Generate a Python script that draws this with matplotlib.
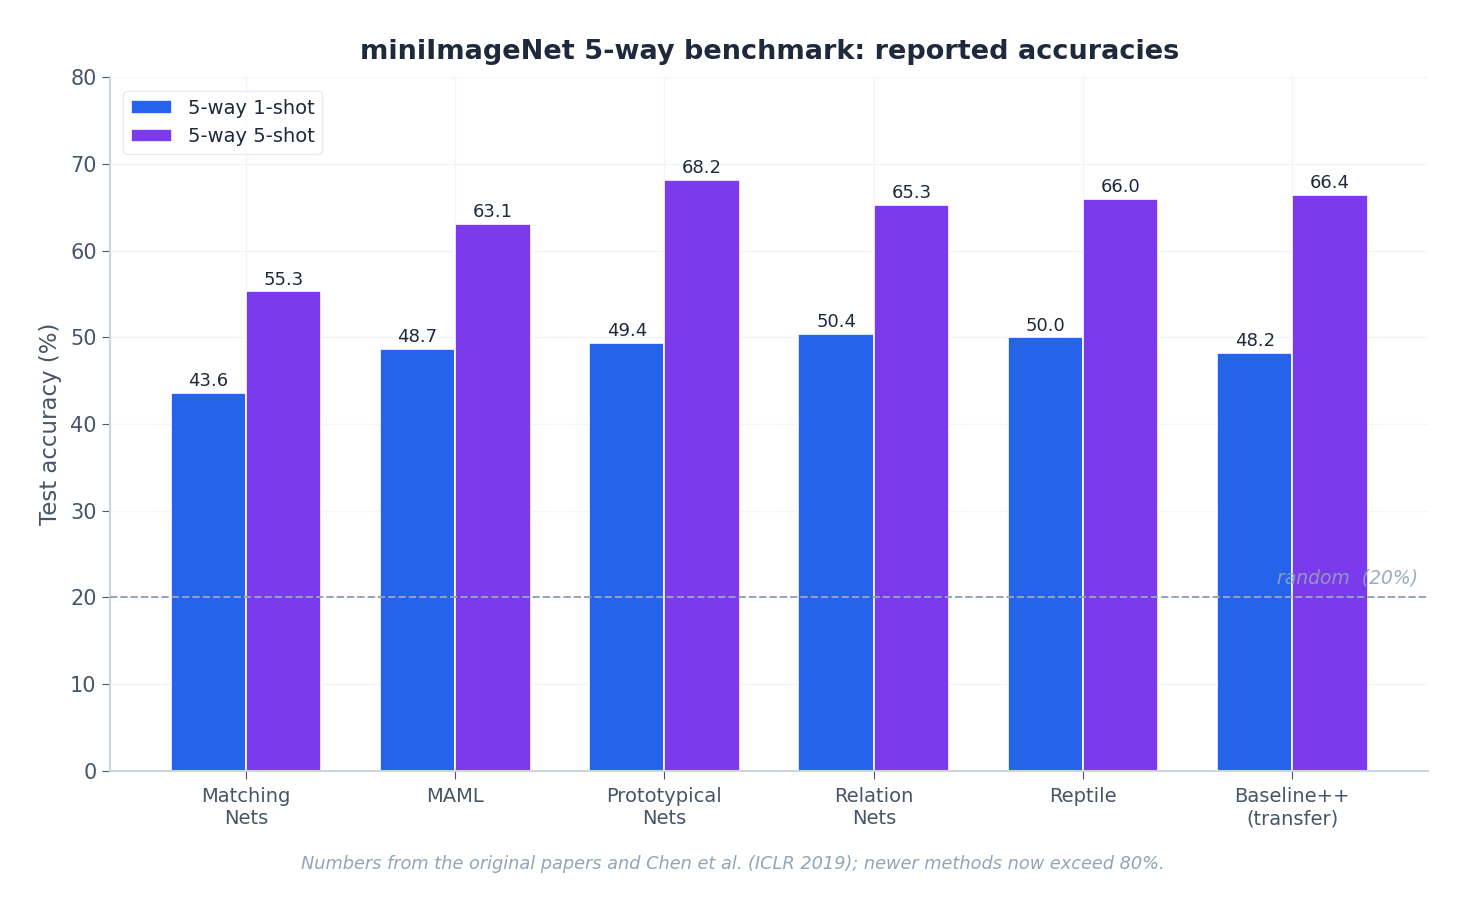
import numpy as np
from matplotlib import pyplot as plt

methods = ["Matching\nNets", "MAML", "Prototypical\nNets", "Relation\nNets", "Reptile", "Baseline++\n(transfer)"]
one_shot = [43.6, 48.7, 49.4, 50.4, 50.0, 48.2]
five_shot = [55.3, 63.1, 68.2, 65.3, 66.0, 66.4]
random_level = 20

blue = "#2563eb"
purple = "#7c3aed"
dark = "#1e293b"
mid = "#475569"
light = "#94a3b8"

fig, ax = plt.subplots(figsize=(14.65, 9.1), dpi=100)
fig.subplots_adjust(left=0.075, right=0.975, top=0.915, bottom=0.153)

x = np.arange(len(methods))
w = 0.36
b1 = ax.bar(x - w / 2, one_shot, w, color=blue, edgecolor="white", linewidth=1.2, label="5-way 1-shot", zorder=2)
b2 = ax.bar(x + w / 2, five_shot, w, color=purple, edgecolor="white", linewidth=1.2, label="5-way 5-shot", zorder=2)

for bars in (b1, b2):
    for r in bars:
        ax.annotate(f"{r.get_height():.1f}", (r.get_x() + r.get_width() / 2, r.get_height()),
                    xytext=(0, 2), textcoords="offset points", ha="center", va="bottom",
                    fontsize=13, color=dark, zorder=4)

ax.axhline(random_level, color=light, linestyle="--", linewidth=1.4, zorder=3)
ax.text(0.992, random_level + 1.2, "random  (20%)", transform=ax.get_yaxis_transform(),
        ha="right", va="bottom", fontsize=13.5, style="italic", color=light, alpha=0.9, zorder=4)

ax.set_xlim(-0.65, 5.65)
ax.set_ylim(0, 80)
ax.set_xticks(x)
ax.set_xticklabels(methods, fontsize=14, color=mid)
ax.tick_params(axis="y", labelsize=15, labelcolor=mid)
ax.tick_params(axis="x", pad=6)
ax.tick_params(colors=mid, length=6)
ax.set_ylabel("Test accuracy (%)", fontsize=16.5, color=mid, labelpad=6)
ax.set_title("miniImageNet 5-way benchmark: reported accuracies", fontsize=19.5, fontweight="bold",
             color=dark, pad=13)

for s in ("top", "right"):
    ax.spines[s].set_visible(False)
for s in ("left", "bottom"):
    ax.spines[s].set_color("#cbd5e1")
    ax.spines[s].set_linewidth(1.5)
ax.grid(True, color="#f1f5f9", linewidth=1, zorder=0)
ax.set_axisbelow(True)

leg = ax.legend(loc="upper left", fontsize=14, frameon=True, labelcolor=dark,
                handlelength=2.1, handletextpad=0.8, borderaxespad=0.7)
leg.get_frame().set_edgecolor("#e2e8f0")

fig.text(0.5, 0.045, "Numbers from the original papers and Chen et al. (ICLR 2019); newer methods now exceed 80%.",
         ha="center", fontsize=12.75, style="italic", color=light)

fig.savefig("out.png", dpi=100)
